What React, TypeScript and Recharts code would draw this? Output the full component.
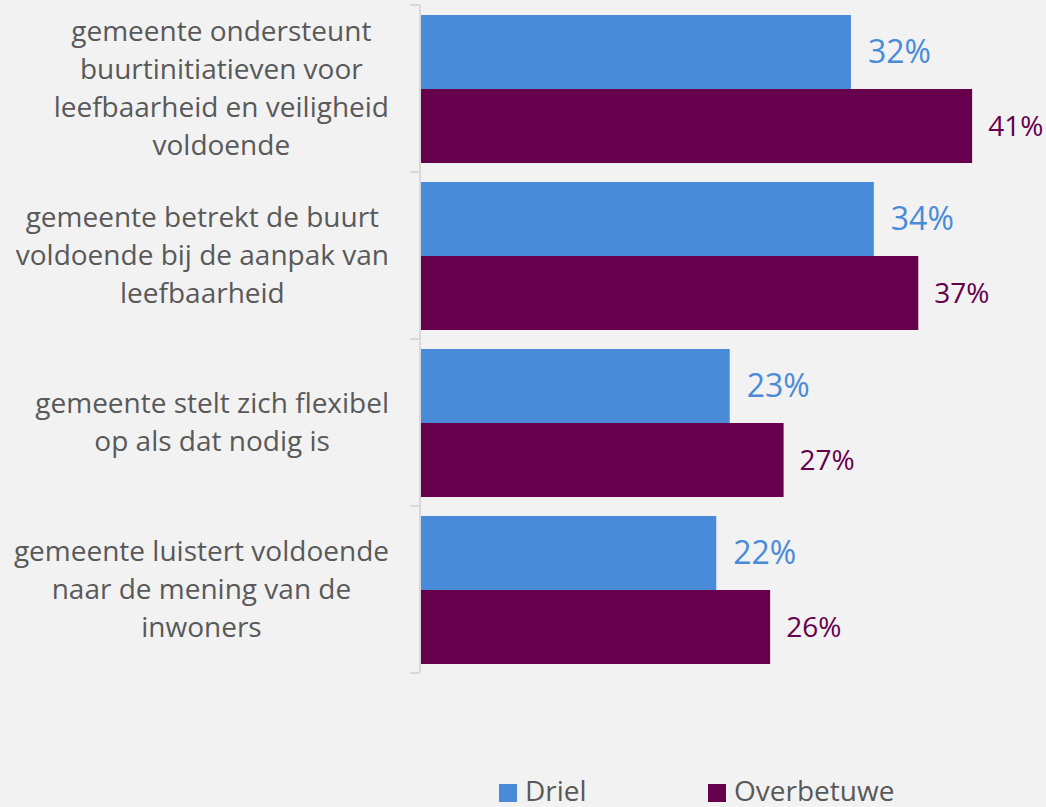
import React from 'react';
import { BarChart, Bar, XAxis, YAxis, LabelList, Legend } from 'recharts';

const categories = [
  ['gemeente ondersteunt', 'buurtinitiatieven voor', 'leefbaarheid en veiligheid', 'voldoende'],
  ['gemeente betrekt de buurt', 'voldoende bij de aanpak van', 'leefbaarheid'],
  ['gemeente stelt zich flexibel', 'op als dat nodig is'],
  ['gemeente luistert voldoende', 'naar de mening van de', 'inwoners'],
];
const driel = [32, 33.7, 23, 22];
const overbetuwe = [41, 37, 27, 26];
const seriesNames = ['Driel', 'Overbetuwe'];
const colors = ['#4a8bd9', '#66004c'];

const data = categories.map((c, i) => ({
  name: c.join(' '),
  lines: c,
  Driel: driel[i],
  Overbetuwe: overbetuwe[i],
}));

const FONT = '"Open Sans", sans-serif';
const GRAY = '#595959';
const TICK_FS = 28;

let ctx: CanvasRenderingContext2D | null = null;
const measure = (s: string) => {
  if (typeof document === 'undefined') return s.length * TICK_FS * 0.5;
  if (!ctx) ctx = document.createElement('canvas').getContext('2d');
  if (!ctx) return s.length * TICK_FS * 0.5;
  ctx.font = `${TICK_FS}px "Open Sans"`;
  return ctx.measureText(s).width;
};

const Tick = (props: any) => {
  const { x, y, payload, index } = props;
  const lines: string[] = data[index]?.lines ?? [String(payload.value)];
  const off = payload.offset ?? 0;
  const lh = 38;
  const maxW = Math.max(...lines.map(measure));
  const cx = x - 31 - maxW / 2;
  const start = y - ((lines.length - 1) * lh) / 2;
  return (
    <g>
      <line x1={x - 10} x2={x} y1={y - off} y2={y - off} stroke="#d9d9d9" strokeWidth={2} />
      {index === data.length - 1 && (
        <line x1={x - 10} x2={x} y1={y + off} y2={y + off} stroke="#d9d9d9" strokeWidth={2} />
      )}
      <text x={cx} y={start} textAnchor="middle" fill={GRAY} fontFamily={FONT} fontSize={TICK_FS}>
        {lines.map((l, i) => (
          <tspan key={i} x={cx} y={start + i * lh} dy="0.35em">
            {l}
          </tspan>
        ))}
      </text>
    </g>
  );
};

const pct = (v: any) => `${Math.round(Number(v))}%`;

const LegendContent = () => (
  <div
    style={{
      display: 'flex',
      height: 28,
      paddingLeft: 499,
      fontFamily: FONT,
      fontSize: 28,
      lineHeight: '28px',
      color: GRAY,
    }}
  >
    {seriesNames.map((n, i) => (
      <div key={n} style={{ display: 'flex', alignItems: 'flex-start', width: 209 }}>
        <span
          style={{ display: 'inline-block', width: 18, height: 18, marginTop: 8, background: colors[i], marginRight: 8 }}
        />
        <span>{n}</span>
      </div>
    ))}
  </div>
);

export default function App() {
  return (
    <div style={{ position: 'absolute', left: 0, top: 0, width: 1046, height: 807, background: '#f2f2f2' }}>
      <BarChart
        width={1046}
        height={807}
        data={data}
        layout="vertical"
        margin={{ top: 5, right: 20, bottom: 106, left: 0 }}
        barGap={0}
      >
        <XAxis type="number" domain={[0, 45]} hide />
        <YAxis
          type="category"
          dataKey="name"
          width={420}
          axisLine={{ stroke: '#d9d9d9', strokeWidth: 2 }}
          tickLine={false}
          tickSize={0}
          tickMargin={0}
          tick={<Tick />}
          interval={0}
        />
        <Legend
          content={<LegendContent />}
          wrapperStyle={{ position: 'absolute', left: 0, top: 776, width: 1046, height: 28 }}
        />
        <Bar dataKey="Driel" fill={colors[0]} barSize={74} isAnimationActive={false}>
          <LabelList
            dataKey="Driel"
            position="right"
            offset={17}
            formatter={pct}
            fill={colors[0]}
            fontSize={32}
            fontFamily={FONT}
          />
        </Bar>
        <Bar dataKey="Overbetuwe" fill={colors[1]} barSize={74} isAnimationActive={false}>
          <LabelList
            dataKey="Overbetuwe"
            position="right"
            offset={16}
            formatter={pct}
            fill={colors[1]}
            fontSize={28}
            fontFamily={FONT}
          />
        </Bar>
      </BarChart>
    </div>
  );
}
